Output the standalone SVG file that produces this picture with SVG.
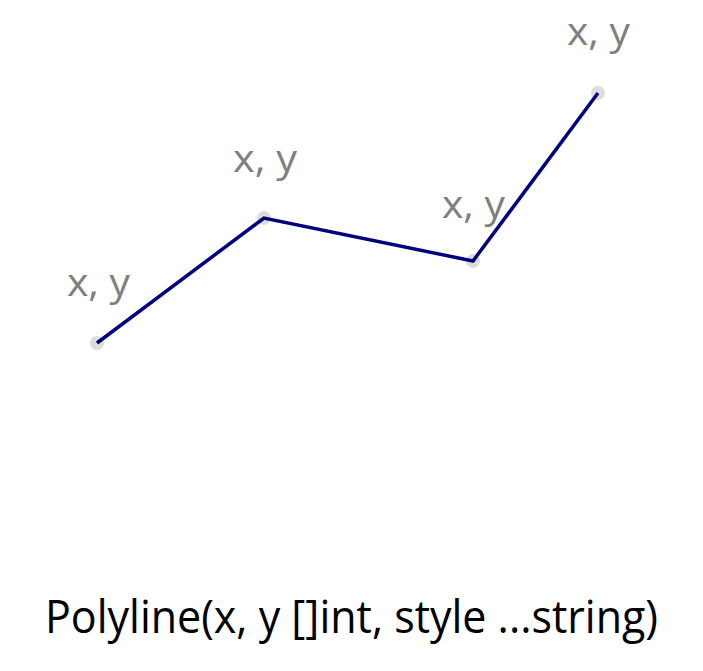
<svg xmlns="http://www.w3.org/2000/svg" width="703" height="671" viewBox="0 0 703 671">
<style>
.lbl{font-family:"Open Sans","Liberation Sans",sans-serif;font-size:39px;fill:#808080}
.dot{fill:#dddddd}
.title{font-family:"Open Sans","Liberation Sans",sans-serif;font-size:45px;fill:#000}
</style>
<rect width="703" height="671" fill="#fff"/>
<g id="points">
<g id="p1"><circle class="dot" cx="97" cy="343" r="7"/><text class="lbl" x="67" y="296" textLength="63" lengthAdjust="spacingAndGlyphs">x, y</text></g>
<g id="p2"><circle class="dot" cx="264" cy="218" r="7"/><text class="lbl" x="233" y="172" textLength="64" lengthAdjust="spacingAndGlyphs">x, y</text></g>
<g id="p3"><circle class="dot" cx="473" cy="261" r="7"/><text class="lbl" x="442" y="218" textLength="63" lengthAdjust="spacingAndGlyphs">x, y</text></g>
<g id="p4"><circle class="dot" cx="598" cy="93" r="7"/><text class="lbl" x="567" y="45" textLength="63" lengthAdjust="spacingAndGlyphs">x, y</text></g>
</g>
<g id="connectors">
<polyline points="97,343 264,218 473,261 598,93" fill="none" stroke="#000080" stroke-width="3.5" stroke-linejoin="miter"/>
</g>
<text class="title" x="45" y="633" textLength="613" lengthAdjust="spacingAndGlyphs">Polyline(x, y []int, style ...string)</text>
</svg>
